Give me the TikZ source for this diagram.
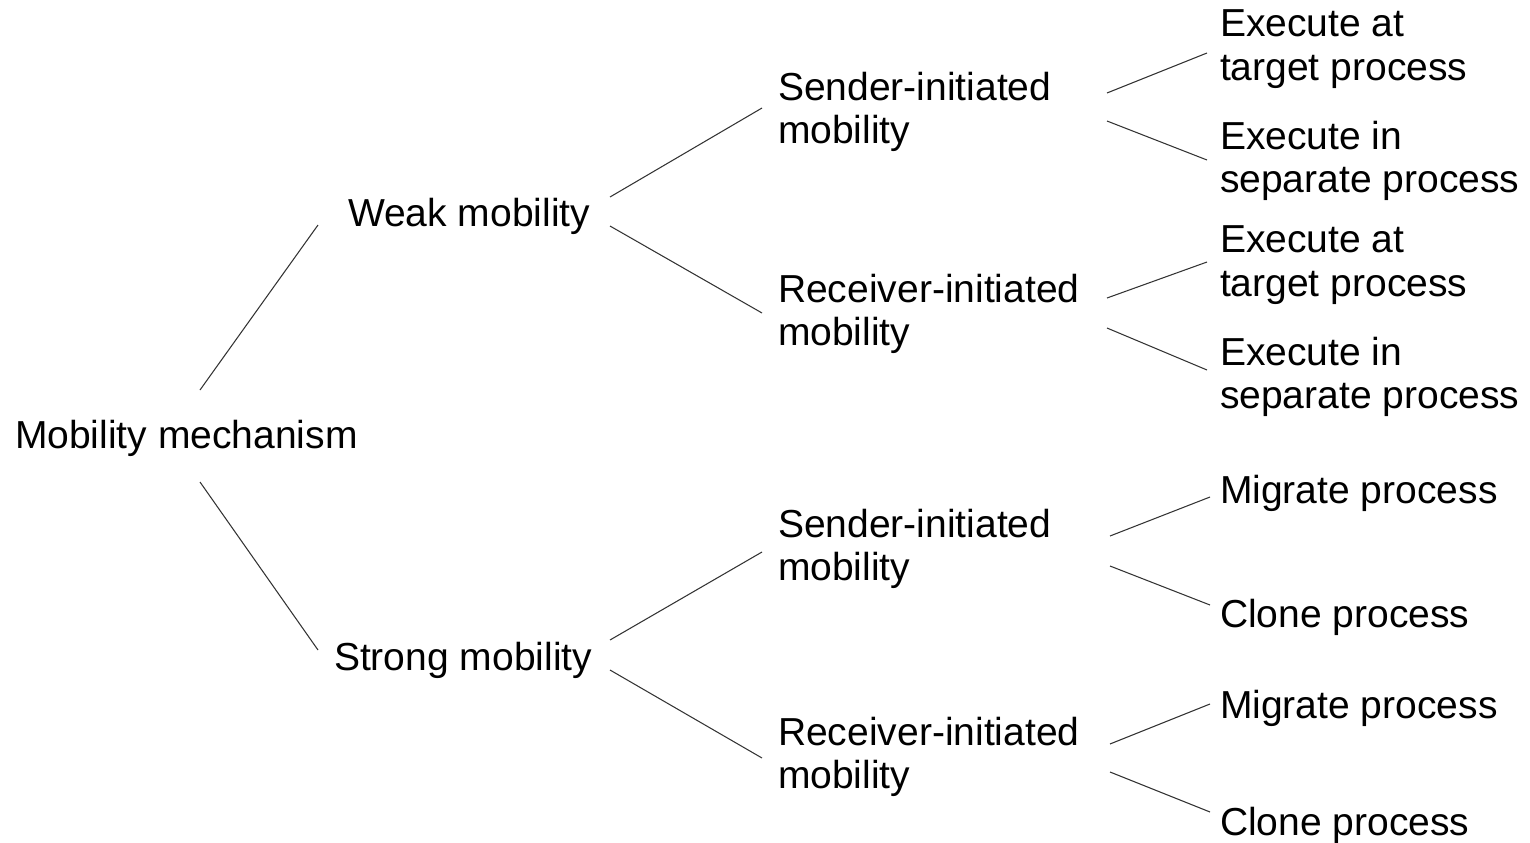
\documentclass[tikz,border=0pt]{standalone}
\usepackage{fontspec}
\setmainfont{Liberation Sans}
\usepackage{tikz}

\begin{document}
\begin{tikzpicture}[x=0.01cm, y=-0.01cm,
    label text/.style={anchor=west, inner sep=0pt, outer sep=0pt, align=left,
                       font=\fontsize{11.1}{12.3}\selectfont},
    branch/.style={draw=black!80, line width=0.3pt}]
    \useasboundingbox (0, 0) rectangle (1530, 842);

    % levels of the tree
    \node[label text] (root) at (15, 438) {Mobility mechanism};
    \node[label text] (weak) at (348, 216) {Weak mobility};
    \node[label text] (strong) at (334, 660) {Strong mobility};

    \node[label text] (s1) at (778, 112) {Sender-initiated\\mobility};
    \node[label text] (r1) at (778, 314) {Receiver-initiated\\mobility};
    \node[label text] (s2) at (778, 549) {Sender-initiated\\mobility};
    \node[label text] (r2) at (778, 757) {Receiver-initiated\\mobility};

    \node[label text] (e1) at (1220, 49) {Execute at\\target process};
    \node[label text] (e2) at (1220, 161) {Execute in\\separate process};
    \node[label text] (e3) at (1220, 265) {Execute at\\target process};
    \node[label text] (e4) at (1220, 377) {Execute in\\separate process};
    \node[label text] (m1) at (1220, 493) {Migrate process};
    \node[label text] (c1) at (1220, 617) {Clone process};
    \node[label text] (m2) at (1220, 708) {Migrate process};
    \node[label text] (c2) at (1220, 825) {Clone process};

    % branches
    \draw[branch] ([shift={(185,-48)}]root.west) -- ([shift={(-30,9)}]weak.west);
    \draw[branch] ([shift={(185,44)}]root.west) -- ([shift={(-16,-10)}]strong.west);

    \draw[branch] ([shift={(262,-19)}]weak.west) -- ([shift={(-16,-4)}]s1.west);
    \draw[branch] ([shift={(262,10)}]weak.west) -- ([shift={(-16,-1)}]r1.west);
    \draw[branch] ([shift={(276,-20)}]strong.west) -- ([shift={(-16,3)}]s2.west);
    \draw[branch] ([shift={(276,10)}]strong.west) -- ([shift={(-16,1)}]r2.west);

    \draw[branch] ([shift={(329,-19)}]s1.west) -- ([shift={(-13,4)}]e1.west);
    \draw[branch] ([shift={(329,9)}]s1.west) -- ([shift={(-13,-1)}]e2.west);
    \draw[branch] ([shift={(329,-16)}]r1.west) -- ([shift={(-13,-3)}]e3.west);
    \draw[branch] ([shift={(329,14)}]r1.west) -- ([shift={(-13,-7)}]e4.west);
    \draw[branch] ([shift={(332,-13)}]s2.west) -- ([shift={(-10,4)}]m1.west);
    \draw[branch] ([shift={(332,17)}]s2.west) -- ([shift={(-10,-12)}]c1.west);
    \draw[branch] ([shift={(332,-13)}]r2.west) -- ([shift={(-10,-4)}]m2.west);
    \draw[branch] ([shift={(332,15)}]r2.west) -- ([shift={(-10,-13)}]c2.west);
\end{tikzpicture}
\end{document}
